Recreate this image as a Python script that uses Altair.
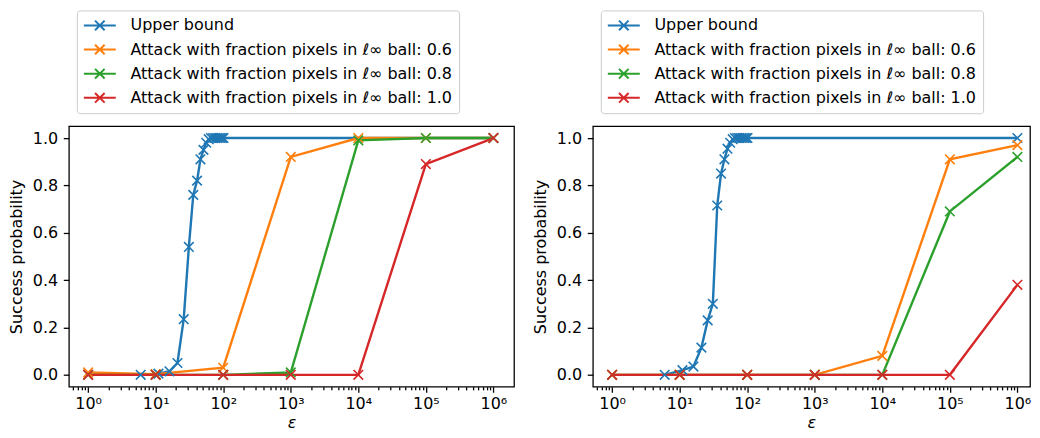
import altair as alt
import pandas as pd

SERIES = [
    "Upper bound",
    "Attack with fraction pixels in ℓ∞ ball: 0.6",
    "Attack with fraction pixels in ℓ∞ ball: 0.8",
    "Attack with fraction pixels in ℓ∞ ball: 1.0",
]
COLORS = ["#1f77b4", "#ff7f0e", "#2ca02c", "#d62728"]

UB_EPS = [6, 11, 16, 21, 26, 31, 36, 41, 46, 51, 56, 61, 66, 71, 76, 81, 86, 91, 96, 101, 1000000]
UB_LEFT = [0.0, 0.005, 0.015, 0.05, 0.235, 0.54, 0.76, 0.82, 0.91, 0.95, 0.98, 0.995,
           1.0, 1.0, 1.0, 1.0, 1.0, 1.0, 1.0, 1.0, 1.0]
UB_RIGHT = [0.0, 0.02, 0.035, 0.115, 0.23, 0.30, 0.715, 0.85, 0.91, 0.955, 0.98, 0.995,
            1.0, 1.0, 1.0, 1.0, 1.0, 1.0, 1.0, 1.0, 1.0]

ATK_EPS = [1, 10, 100, 1000, 10000, 100000, 1000000]
LEFT_06 = [0.01, 0.003, 0.03, 0.92, 1.0, 1.0, 1.0]
LEFT_08 = [0.0, 0.0, 0.0, 0.01, 0.99, 1.0, 1.0]
LEFT_10 = [0.0, 0.0, 0.0, 0.0, 0.0, 0.89, 1.0]
RIGHT_06 = [0.0, 0.0, 0.0, 0.0, 0.08, 0.91, 0.97]
RIGHT_08 = [0.0, 0.0, 0.0, 0.0, 0.0, 0.69, 0.92]
RIGHT_10 = [0.0, 0.0, 0.0, 0.0, 0.0, 0.0, 0.38]

MAJOR_TICKS = [1, 10, 100, 1000, 10000, 100000, 1000000]
MINOR_MULT = [2, 3, 4, 5, 6, 7, 8, 9]
MINOR_TICKS = [m * 10.0 ** e for e in range(-1, 7) for m in MINOR_MULT
               if 0.5 <= m * 10.0 ** e <= 1.5e6]
Y_TICKS = [0.0, 0.2, 0.4, 0.6, 0.8, 1.0]

FONT = "DejaVu Sans"
FS = 16
X_PATH = "M-1,-1L1,1M-1,1L1,-1"
LEG_PATH = "M-1,0L3,0M0.4,-0.6L1.6,0.6M0.4,0.6L1.6,-0.6"
IS_MAJOR = "abs(log(datum.value)/LN10 - round(log(datum.value)/LN10)) < 0.001"
SUP = "['⁰','¹','²','³','⁴','⁵','⁶']"


def make_df(ub, a06, a08, a10):
    rows = []
    for x, y in zip(UB_EPS, ub):
        rows.append({"series": SERIES[0], "eps": x, "p": y})
    for name, vals in zip(SERIES[1:], [a06, a08, a10]):
        for x, y in zip(ATK_EPS, vals):
            rows.append({"series": name, "eps": x, "p": y})
    return pd.DataFrame(rows)


def panel(df, width, x_hi):
    legend = alt.Legend(
        orient="none", legendX=8, legendY=-116, title=None,
        symbolType=LEG_PATH, symbolSize=256, symbolStrokeWidth=2,
        symbolFillColor="transparent",
        labelFont=FONT, labelFontSize=FS, labelColor="#000", labelLimit=0,
        labelOffset=29.7, rowPadding=6.2, padding=6,
        strokeColor="#cccccc", fillColor="rgba(255,255,255,0.8)", cornerRadius=3,
    )
    x = alt.X(
        "eps:Q",
        scale=alt.Scale(type="log", domain=[10 ** -0.285, x_hi], nice=False),
        axis=alt.Axis(
            values=MAJOR_TICKS + MINOR_TICKS,
            labelExpr=f"{IS_MAJOR} ? '10' + {SUP}[round(log(datum.value)/LN10)] : ''",
            tickSize={"condition": {"test": IS_MAJOR, "value": 5.6}, "value": 3.2},
            labelOverlap=False, labelFlush=False, labelPadding=3,
            titlePadding=3, titleFontStyle="italic",
        ),
        title="ε",
    )
    y = alt.Y(
        "p:Q",
        scale=alt.Scale(domain=[-0.05, 1.05], nice=False, zero=False),
        axis=alt.Axis(values=Y_TICKS, format=".1f", tickSize=5.6, labelPadding=5.6,
                      titlePadding=8),
        title="Success probability",
    )
    color = alt.Color("series:N", scale=alt.Scale(domain=SERIES, range=COLORS),
                      sort=SERIES, legend=legend)
    base = alt.Chart(df)
    lines = base.mark_line(strokeWidth=2.4).encode(x=x, y=y, color=color,
                                                   detail="series:N")
    points = base.mark_point(shape=X_PATH, size=92, filled=False, strokeWidth=1.6,
                             opacity=1).encode(x=x, y=y, color=color)
    return alt.layer(lines, points).properties(width=width, height=261)


left = panel(make_df(UB_LEFT, LEFT_06, LEFT_08, LEFT_10), 446, 10 ** 6.305)
right = panel(make_df(UB_RIGHT, RIGHT_06, RIGHT_08, RIGHT_10), 438, 10 ** 6.1866)

chart = (
    alt.hconcat(left, right, spacing=16)
    .resolve_scale(color="independent")
    .resolve_legend(color="independent")
    .properties(padding={"left": -1, "top": 0, "right": 0, "bottom": 0})
    .configure(background="white")
    .configure_view(stroke="#000", strokeWidth=1.28)
    .configure_axis(
        labelFont=FONT, labelFontSize=FS, labelColor="#000",
        titleFont=FONT, titleFontSize=FS, titleFontWeight="normal", titleColor="#000",
        tickColor="#000", tickWidth=1.28, domain=False, grid=False,
    )
)

chart.save("out.html", embed_options={"renderer": "svg", "actions": False})
